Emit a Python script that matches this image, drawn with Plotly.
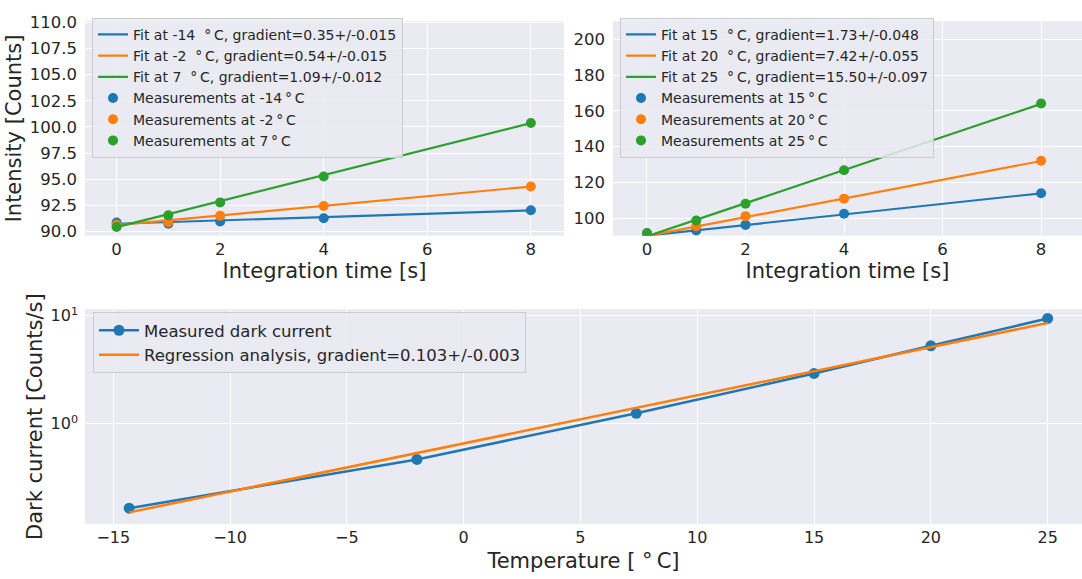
import plotly.graph_objects as go

W, H = 1082, 579

# ---- data ----
t_int = [0, 1, 2, 4, 8]
fit_x = [0, 8]

cold_labels = ["-14", "-2", "7"]
cold_grad = ["0.35+/-0.015", "0.54+/-0.015", "1.09+/-0.012"]
meas_m14 = [90.87, 90.74, 90.97, 91.27, 92.04]
meas_m2 = [90.65, 90.90, 91.52, 92.45, 94.31]
meas_p7 = [90.44, 91.55, 92.79, 95.26, 100.37]
fit_m14 = [90.75, 92.02]
fit_m2 = [90.62, 94.30]
fit_p7 = [90.42, 100.36]

warm_labels = ["15", "20", "25"]
warm_grad = ["1.73+/-0.048", "7.42+/-0.055", "15.50+/-0.097"]
meas_15 = [91.4, 93.0, 96.2, 102.4, 113.9]
meas_20 = [91.0, 95.4, 101.1, 110.9, 132.1]
meas_25 = [91.6, 98.7, 108.0, 126.8, 164.2]
fit_15 = [90.2, 113.9]
fit_20 = [90.0, 132.0]
fit_25 = [89.8, 164.0]

temps = [-14.32, -2.0, 7.39, 15.0, 20.0, 25.0]
dark_current = [0.165, 0.467, 1.25, 2.93, 5.28, 9.46]
reg_x = [-14.32, 25.0]
reg_y = [0.151, 8.59]

left_ticks = [90.0, 92.5, 95.0, 97.5, 100.0, 102.5, 105.0, 107.5, 110.0]
right_ticks = [100, 120, 140, 160, 180, 200]
time_ticks = [0, 2, 4, 6, 8]
temp_ticks = [-15, -10, -5, 0, 5, 10, 15, 20, 25]
log_ticks = [1, 10]
log_ticktext = ["10<sup>0</sup>", "10<sup>1</sup>"]

colors = ["#1f77b4", "#ff7f0e", "#2ca02c"]
FONT = "DejaVu Sans"
DEG = "\u00b0"
TXT = "#262626"

fig = go.Figure()

# top-left
for i, fy in enumerate([fit_m14, fit_m2, fit_p7]):
    fig.add_trace(go.Scatter(
        x=fit_x, y=fy, mode="lines", line=dict(color=colors[i], width=2.2),
        name=f"Fit at {cold_labels[i]}\u00a0\u00a0{DEG}\u2009C, gradient={cold_grad[i]}",
        xaxis="x", yaxis="y", legend="legend"))
for i, my in enumerate([meas_m14, meas_m2, meas_p7]):
    fig.add_trace(go.Scatter(
        x=t_int, y=my, mode="markers", marker=dict(color=colors[i], size=10),
        name=f"Measurements at {cold_labels[i]}\u2009{DEG}\u2009C",
        xaxis="x", yaxis="y", legend="legend"))

# top-right
for i, fy in enumerate([fit_15, fit_20, fit_25]):
    fig.add_trace(go.Scatter(
        x=fit_x, y=fy, mode="lines", line=dict(color=colors[i], width=2.2),
        name=f"Fit at {warm_labels[i]}\u00a0\u00a0{DEG}\u2009C, gradient={warm_grad[i]}",
        xaxis="x2", yaxis="y2", legend="legend2"))
for i, my in enumerate([meas_15, meas_20, meas_25]):
    fig.add_trace(go.Scatter(
        x=t_int, y=my, mode="markers", marker=dict(color=colors[i], size=10),
        name=f"Measurements at {warm_labels[i]}\u2009{DEG}\u2009C",
        xaxis="x2", yaxis="y2", legend="legend2"))

# bottom
fig.add_trace(go.Scatter(
    x=temps, y=dark_current, mode="lines+markers",
    line=dict(color=colors[0], width=2.5), marker=dict(color=colors[0], size=11),
    name="Measured dark current", xaxis="x3", yaxis="y3", legend="legend3"))
fig.add_trace(go.Scatter(
    x=reg_x, y=reg_y, mode="lines", line=dict(color=colors[1], width=2.5),
    name="Regression analysis, gradient=0.103+/-0.003",
    xaxis="x3", yaxis="y3", legend="legend3"))

BG = "#EAEAF2"

def ax(text=None, tsz=16.5, ttl=21, stand=2, lab_off=2, **kw):
    d = dict(showgrid=True, gridcolor="white", gridwidth=1.3, zeroline=False,
             showline=False, ticks="", ticklabelstandoff=lab_off,
             tickfont=dict(size=tsz, color=TXT, family=FONT))
    if text is not None:
        d["title"] = dict(text=text, standoff=stand,
                          font=dict(size=ttl, color=TXT, family=FONT))
    d.update(kw)
    return d

def px_x(p):
    return p / W

def px_y(p):
    return 1 - p / H

legend_common = dict(bgcolor="rgba(234,234,242,0.85)", bordercolor="#cccccc", borderwidth=1,
                     font=dict(size=14, color=TXT, family=FONT), xanchor="left", yanchor="top",
                     tracegroupgap=0)

fig.update_layout(
    width=W, height=H, margin=dict(l=0, r=0, t=0, b=0),
    paper_bgcolor="white", plot_bgcolor=BG,
    font=dict(family=FONT, color=TXT),
    xaxis=ax("Integration time [s]", domain=[px_x(85), px_x(564)], range=[-0.61, 8.64],
             tickvals=time_ticks, anchor="y"),
    yaxis=ax("Intensity [Counts]", lab_off=7, domain=[px_y(233), px_y(13.5)], range=[89.6, 110.1],
             tickvals=left_ticks, tickformat=".1f", anchor="x"),
    xaxis2=ax("Integration time [s]", domain=[px_x(613), 1.0], range=[-0.69, 8.83],
              tickvals=time_ticks, anchor="y2"),
    yaxis2=ax(None, lab_off=7, domain=[px_y(233), px_y(13.5)], range=[90.1, 210.3],
              tickvals=right_ticks, anchor="x2"),
    xaxis3=ax(f"Temperature [ {DEG}\u2009C]", tsz=16, ttl=21, stand=7,
              domain=[px_x(85), 1.0], range=[-16.21, 26.47], tickvals=temp_ticks, anchor="y3"),
    yaxis3=ax("Dark current [Counts/s]", tsz=16, ttl=21, stand=2, lab_off=6,
              domain=[px_y(528), px_y(308)], type="log", range=[-0.93, 1.063],
              tickvals=log_ticks, ticktext=log_ticktext, anchor="x3"),
    legend=dict(x=px_x(92), y=px_y(10), **legend_common),
    legend2=dict(x=px_x(620), y=px_y(10), **legend_common),
    legend3=dict(x=px_x(93), y=px_y(311), itemwidth=40,
                 **{**legend_common, "font": dict(size=16.5, color=TXT, family=FONT)}),
    showlegend=True,
)

fig.write_html("out.html")
